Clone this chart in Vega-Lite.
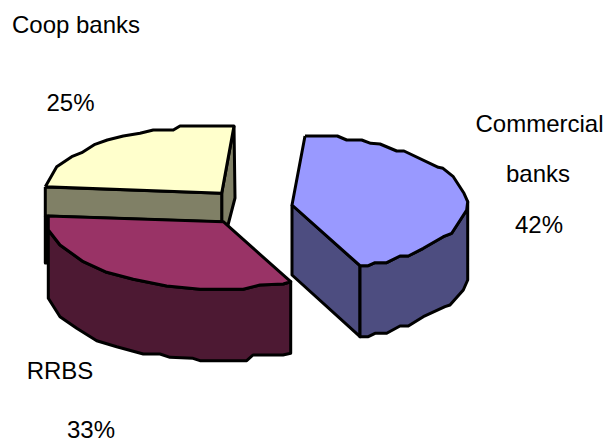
{
  "$schema": "https://vega.github.io/schema/vega-lite/v6.json",
  "width": 604,
  "height": 444,
  "padding": 0,
  "autosize": {"type": "fit", "contains": "padding"},
  "background": "white",
  "view": {"stroke": null},
  "datasets": {
    "outlines": [
      {"part":"Commercial side cut","x":292,"y":205},{"part":"Commercial side cut","x":360,"y":265.7},{"part":"Commercial side cut","x":360,"y":336.7},{"part":"Commercial side cut","x":292,"y":275},{"part":"Commercial side cut","x":292,"y":205},
      {"part":"Commercial side rim","x":360,"y":265.7},{"part":"Commercial side rim","x":368.3,"y":265.7},{"part":"Commercial side rim","x":375,"y":262.7},{"part":"Commercial side rim","x":386.7,"y":262.7},{"part":"Commercial side rim","x":400,"y":256},{"part":"Commercial side rim","x":408.3,"y":256},{"part":"Commercial side rim","x":423.3,"y":248.3},{"part":"Commercial side rim","x":443.3,"y":236.7},{"part":"Commercial side rim","x":451.7,"y":233.3},{"part":"Commercial side rim","x":466.7,"y":210},{"part":"Commercial side rim","x":467.7,"y":201.7},{"part":"Commercial side rim","x":467.7,"y":280},{"part":"Commercial side rim","x":463.3,"y":290},{"part":"Commercial side rim","x":450,"y":305},{"part":"Commercial side rim","x":445,"y":306.7},{"part":"Commercial side rim","x":423.3,"y":316.7},{"part":"Commercial side rim","x":408.3,"y":326},{"part":"Commercial side rim","x":400,"y":326},{"part":"Commercial side rim","x":386.7,"y":333.3},{"part":"Commercial side rim","x":375,"y":333.3},{"part":"Commercial side rim","x":368.3,"y":336.7},{"part":"Commercial side rim","x":360,"y":336.7},{"part":"Commercial side rim","x":360,"y":265.7},
      {"part":"Commercial top","x":305,"y":136},{"part":"Commercial top","x":337.3,"y":136},{"part":"Commercial top","x":346.7,"y":140},{"part":"Commercial top","x":361.7,"y":140},{"part":"Commercial top","x":370.7,"y":143.3},{"part":"Commercial top","x":380,"y":144},{"part":"Commercial top","x":396.7,"y":151},{"part":"Commercial top","x":404,"y":151},{"part":"Commercial top","x":438.3,"y":167.3},{"part":"Commercial top","x":443,"y":168.3},{"part":"Commercial top","x":453.3,"y":176.7},{"part":"Commercial top","x":464,"y":193.3},{"part":"Commercial top","x":467.7,"y":201.7},{"part":"Commercial top","x":466.7,"y":210},{"part":"Commercial top","x":451.7,"y":233.3},{"part":"Commercial top","x":443.3,"y":236.7},{"part":"Commercial top","x":423.3,"y":248.3},{"part":"Commercial top","x":408.3,"y":256},{"part":"Commercial top","x":400,"y":256},{"part":"Commercial top","x":386.7,"y":262.7},{"part":"Commercial top","x":375,"y":262.7},{"part":"Commercial top","x":368.3,"y":265.7},{"part":"Commercial top","x":360,"y":265.7},{"part":"Commercial top","x":292,"y":205},{"part":"Commercial top","x":305,"y":136},
      {"part":"Coop side back","x":234,"y":126},{"part":"Coop side back","x":235,"y":198},{"part":"Coop side back","x":228,"y":225},{"part":"Coop side back","x":221.7,"y":222},{"part":"Coop side back","x":221.7,"y":193.3},{"part":"Coop side back","x":234,"y":126},
      {"part":"Coop side front","x":45.3,"y":187},{"part":"Coop side front","x":221.7,"y":193.3},{"part":"Coop side front","x":221.7,"y":222},{"part":"Coop side front","x":45.3,"y":216},{"part":"Coop side front","x":45.3,"y":187},
      {"part":"Coop top","x":45.3,"y":186.7},{"part":"Coop top","x":56.7,"y":166.7},{"part":"Coop top","x":71.7,"y":156.7},{"part":"Coop top","x":81.7,"y":152.7},{"part":"Coop top","x":95,"y":144.3},{"part":"Coop top","x":107.3,"y":140},{"part":"Coop top","x":123.3,"y":136},{"part":"Coop top","x":140,"y":133.3},{"part":"Coop top","x":153.3,"y":130},{"part":"Coop top","x":173.3,"y":130},{"part":"Coop top","x":180,"y":126},{"part":"Coop top","x":234,"y":126},{"part":"Coop top","x":221.7,"y":193.3},{"part":"Coop top","x":45.3,"y":186.7},
      {"part":"Coop edge","x":45.3,"y":216},{"part":"Coop edge","x":48.3,"y":216},{"part":"Coop edge","x":48.3,"y":263},{"part":"Coop edge","x":45.3,"y":263},{"part":"Coop edge","x":45.3,"y":216},
      {"part":"RRBS side","x":48.3,"y":230},{"part":"RRBS side","x":60,"y":245},{"part":"RRBS side","x":83.3,"y":261.7},{"part":"RRBS side","x":106.7,"y":272.3},{"part":"RRBS side","x":133.3,"y":279.3},{"part":"RRBS side","x":166.7,"y":286},{"part":"RRBS side","x":200,"y":289.3},{"part":"RRBS side","x":243.3,"y":289.3},{"part":"RRBS side","x":260,"y":285},{"part":"RRBS side","x":283.3,"y":284},{"part":"RRBS side","x":290.7,"y":281.7},{"part":"RRBS side","x":290.7,"y":353.3},{"part":"RRBS side","x":283,"y":355},{"part":"RRBS side","x":253,"y":355},{"part":"RRBS side","x":246.7,"y":360.7},{"part":"RRBS side","x":200,"y":360.7},{"part":"RRBS side","x":193,"y":358.3},{"part":"RRBS side","x":170,"y":357.3},{"part":"RRBS side","x":160,"y":354},{"part":"RRBS side","x":143.3,"y":354},{"part":"RRBS side","x":116.7,"y":346.7},{"part":"RRBS side","x":96.7,"y":340.7},{"part":"RRBS side","x":76.7,"y":328.3},{"part":"RRBS side","x":60,"y":316.7},{"part":"RRBS side","x":48.3,"y":298.3},{"part":"RRBS side","x":48.3,"y":230},
      {"part":"RRBS top","x":48.3,"y":216},{"part":"RRBS top","x":223.3,"y":221.7},{"part":"RRBS top","x":290.7,"y":281.7},{"part":"RRBS top","x":283.3,"y":284},{"part":"RRBS top","x":260,"y":285},{"part":"RRBS top","x":243.3,"y":289.3},{"part":"RRBS top","x":200,"y":289.3},{"part":"RRBS top","x":166.7,"y":286},{"part":"RRBS top","x":133.3,"y":279.3},{"part":"RRBS top","x":106.7,"y":272.3},{"part":"RRBS top","x":83.3,"y":261.7},{"part":"RRBS top","x":60,"y":245},{"part":"RRBS top","x":48.3,"y":230},{"part":"RRBS top","x":48.3,"y":216}
    ],
    "labels": [
      {"text":"Coop banks","x":76,"y":33},
      {"text":"25%","x":70.5,"y":111},
      {"text":"Commercial","x":539.5,"y":132},
      {"text":"banks","x":538,"y":182},
      {"text":"42%","x":539,"y":232.7},
      {"text":"RRBS","x":60,"y":378.7},
      {"text":"33%","x":91,"y":437.7}
    ]
  },
  "layer": [
    {
      "data": {"name": "outlines"},
      "mark": {"type": "line", "stroke": "black", "strokeWidth": 3, "strokeJoin": "round", "interpolate": "linear"},
      "encoding": {
        "x": {"field": "x", "type": "quantitative", "scale": {"domain": [0, 604], "nice": false, "zero": false}, "axis": null},
        "y": {"field": "y", "type": "quantitative", "scale": {"domain": [444, 0], "nice": false, "zero": false}, "axis": null},
        "detail": {"field": "part"},
        "order": {"value": null},
        "fill": {
          "field": "part",
          "type": "nominal",
          "legend": null,
          "sort": null,
          "scale": {
            "domain": ["Commercial side cut","Commercial side rim","Commercial top","Coop side back","Coop side front","Coop top","Coop edge","RRBS side","RRBS top"],
            "range": ["#4d4d80","#4d4d80","#9999ff","#808066","#808066","#ffffcc","#4d1933","#4d1933","#993366"]
          }
        }
      }
    },
    {
      "data": {"name": "labels"},
      "mark": {"type": "text", "font": "Liberation Sans", "fontSize": 24, "align": "center", "baseline": "alphabetic", "color": "black"},
      "encoding": {
        "x": {"field": "x", "type": "quantitative", "scale": {"domain": [0, 604], "nice": false, "zero": false}, "axis": null},
        "y": {"field": "y", "type": "quantitative", "scale": {"domain": [444, 0], "nice": false, "zero": false}, "axis": null},
        "text": {"field": "text"}
      }
    }
  ]
}
